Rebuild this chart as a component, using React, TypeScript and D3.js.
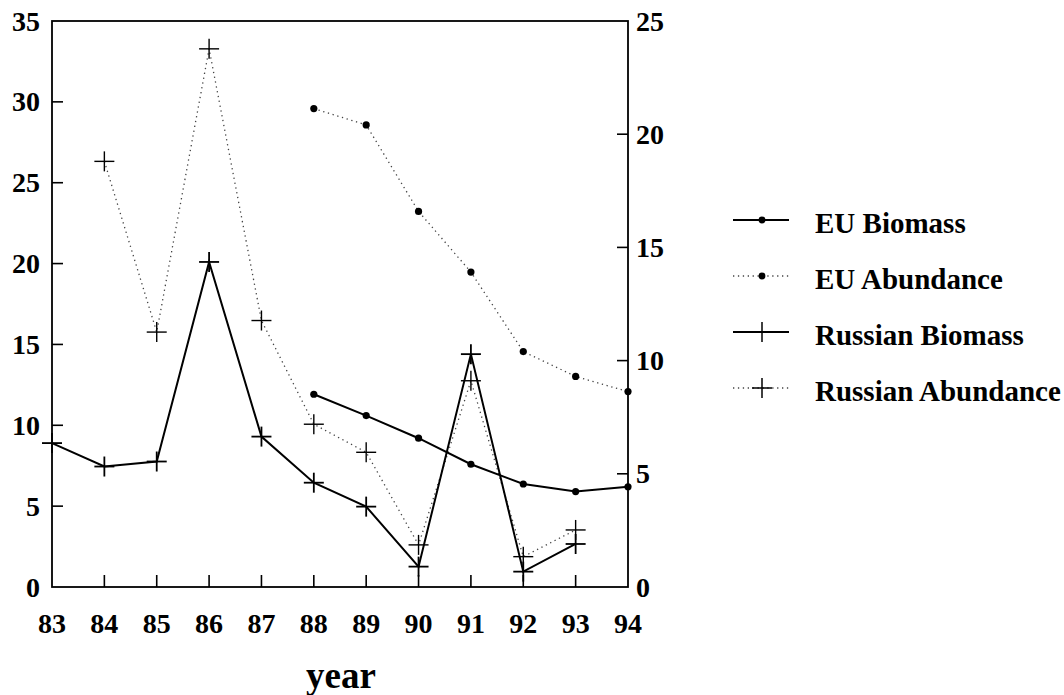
import React from "react";
import * as d3 from "d3";

const years = [83, 84, 85, 86, 87, 88, 89, 90, 91, 92, 93, 94];
const leftTicks = [0, 5, 10, 15, 20, 25, 30, 35];
const rightTicks = [0, 5, 10, 15, 20, 25];

const euBiomassYears = [88, 89, 90, 91, 92, 93, 94];
const euBiomass = [11.92, 10.6, 9.2, 7.59, 6.37, 5.9, 6.2];

const euAbundanceYears = [88, 89, 90, 91, 92, 93, 94];
const euAbundance = [21.13, 20.41, 16.59, 13.91, 10.4, 9.3, 8.63];

const ruBiomassYears = [83, 84, 85, 86, 87, 88, 89, 90, 91, 92, 93];
const ruBiomass = [8.9, 7.45, 7.76, 20.1, 9.3, 6.45, 4.97, 1.26, 14.4, 0.95, 2.66];

const ruAbundanceYears = [84, 85, 86, 87, 88, 89, 90, 91, 92, 93];
const ruAbundance = [18.8, 11.26, 23.77, 11.77, 7.19, 5.95, 1.86, 9.11, 1.34, 2.52];

const legendLabels = ["EU Biomass", "EU Abundance", "Russian Biomass", "Russian Abundance"];

const W = 1064;
const H = 695;
const L = 52;
const R = 628;
const T = 21;
const B = 587;

const FONT = "'Liberation Serif', 'Times New Roman', serif";

export default function App() {
  const x = d3.scaleLinear().domain([83, 94]).range([L, R]);
  const yL = d3.scaleLinear().domain([0, 35]).range([B, T]);
  const yR = d3.scaleLinear().domain([0, 25]).range([B, T]);

  const mk = (xs: number[], vs: number[]) => xs.map((yr, i) => [yr, vs[i]] as [number, number]);
  const lineL = d3.line<[number, number]>().x((d) => x(d[0])).y((d) => yL(d[1]));
  const lineR = d3.line<[number, number]>().x((d) => x(d[0])).y((d) => yR(d[1]));

  const euB = mk(euBiomassYears, euBiomass);
  const euA = mk(euAbundanceYears, euAbundance);
  const ruB = mk(ruBiomassYears, ruBiomass);
  const ruA = mk(ruAbundanceYears, ruAbundance);

  const plus = (cx: number, cy: number, key: string, sw = 1.6) => (
    <g key={key} stroke="#000" strokeWidth={sw}>
      <line x1={cx - 10} x2={cx + 10} y1={cy} y2={cy} />
      <line x1={cx} x2={cx} y1={cy - 10} y2={cy + 10} />
    </g>
  );

  const dotted = { stroke: "#444", strokeWidth: 1.3, strokeDasharray: "1.3 3.6", fill: "none" };
  const solid = { stroke: "#000", strokeWidth: 2, fill: "none" };

  const legendY = [220, 276, 332, 388];
  const lx1 = 733;
  const lx2 = 789;
  const lmx = 762;

  return (
    <svg
      width={W}
      height={H}
      style={{ position: "absolute", left: 0, top: 0, background: "#fff" }}
      fontFamily={FONT}
      fontWeight="bold"
    >
      <rect x={0} y={0} width={W} height={H} fill="#fff" />
      {/* frame */}
      <rect x={L} y={T} width={R - L} height={B - T} fill="none" stroke="#000" strokeWidth={1.8} />

      {/* left ticks */}
      {leftTicks.map((t) => (
        <g key={"l" + t}>
          {t > 0 && t < 35 && <line x1={L} x2={L + 11} y1={yL(t)} y2={yL(t)} stroke="#000" strokeWidth={1.6} />}
          <text x={40} y={yL(t)} textAnchor="end" dominantBaseline="central" fontSize={28}>
            {t}
          </text>
        </g>
      ))}

      {/* right ticks */}
      {rightTicks.map((t) => (
        <g key={"r" + t}>
          {t > 0 && t < 25 && <line x1={R - 11} x2={R} y1={yR(t)} y2={yR(t)} stroke="#000" strokeWidth={1.6} />}
          <text x={636} y={yR(t)} textAnchor="start" dominantBaseline="central" fontSize={28}>
            {t}
          </text>
        </g>
      ))}

      {/* x ticks */}
      {years.map((yr) => (
        <g key={"x" + yr}>
          {yr > 83 && yr < 94 && <line x1={x(yr)} x2={x(yr)} y1={B} y2={B - 12} stroke="#000" strokeWidth={1.6} />}
          <text x={x(yr)} y={633} textAnchor="middle" fontSize={28}>
            {yr}
          </text>
        </g>
      ))}

      <text x={341} y={688} textAnchor="middle" fontSize={37}>
        year
      </text>

      {/* series */}
      <path d={lineR(ruA) || ""} {...dotted} />
      <path d={lineR(euA) || ""} {...dotted} />
      <path d={lineL(ruB) || ""} {...solid} />
      <path d={lineL(euB) || ""} {...solid} />

      {euB.map((d, i) => (
        <circle key={"eb" + i} cx={x(d[0])} cy={yL(d[1])} r={3.6} fill="#000" />
      ))}
      {euA.map((d, i) => (
        <circle key={"ea" + i} cx={x(d[0])} cy={yR(d[1])} r={3.6} fill="#000" />
      ))}
      {ruB.map((d, i) => plus(x(d[0]), yL(d[1]), "rb" + i, 1.8))}
      {ruA.map((d, i) => plus(x(d[0]), yR(d[1]), "ra" + i, 1.4))}

      {/* legend */}
      {legendLabels.map((lab, i) => {
        const yy = legendY[i];
        const isDotted = i === 1 || i === 3;
        const isPlus = i >= 2;
        return (
          <g key={"lg" + i}>
            <line x1={lx1} x2={lx2} y1={yy} y2={yy} {...(isDotted ? dotted : solid)} />
            {isPlus ? plus(lmx, yy, "lp" + i, 1.5) : <circle cx={lmx} cy={yy} r={3.4} fill="#000" />}
            <text x={815} y={yy + 13} fontSize={29}>
              {lab}
            </text>
          </g>
        );
      })}
    </svg>
  );
}
